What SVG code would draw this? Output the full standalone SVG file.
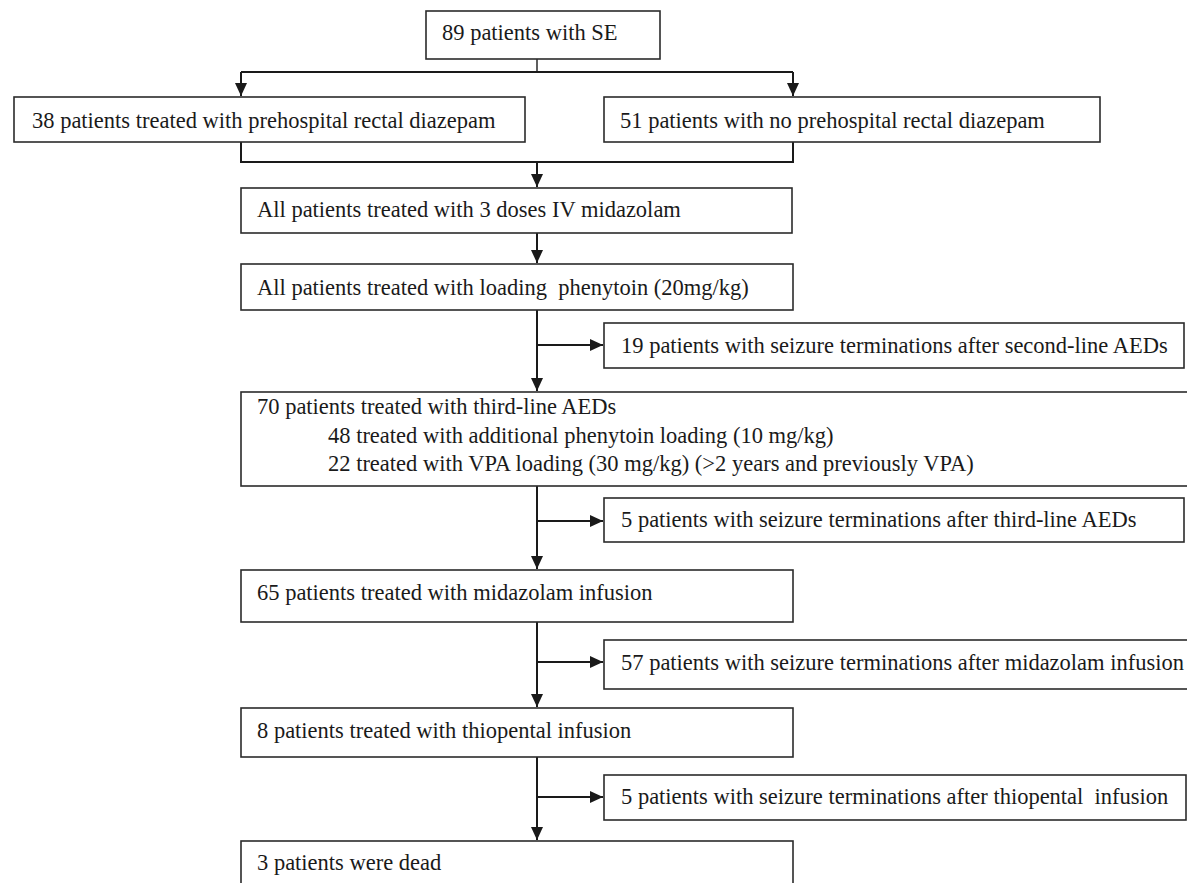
<svg xmlns="http://www.w3.org/2000/svg" width="1187" height="883" viewBox="0 0 1187 883">
<style>
.box{fill:#fff;stroke:#2b2b2b;stroke-width:1.6}
.t{font-family:"Liberation Serif","Times New Roman",serif;font-size:22.5px;fill:#1a1a1a;white-space:pre}
.c{fill:none;stroke:#1a1a1a;stroke-width:2}
</style>
<defs>
<marker id="ah" markerUnits="userSpaceOnUse" markerWidth="13" markerHeight="12" viewBox="0 0 13 12" refX="13" refY="6" orient="auto">
<path d="M0,0 L13,6 L0,12 z" fill="#1a1a1a"/>
</marker>
</defs>
<rect width="1187" height="883" fill="#fff"/>
<g id="connectors">
<path class="c" style="stroke-width:1.4" d="M537,59 V72"/>
<path class="c" d="M241,72 H793"/>
<path class="c" d="M241,72 V96" marker-end="url(#ah)"/>
<path class="c" d="M793,72 V96" marker-end="url(#ah)"/>
<path class="c" d="M241,142 V162 H793 V142"/>
<path class="c" d="M537,162 V187" marker-end="url(#ah)"/>
<path class="c" d="M537,233 V263" marker-end="url(#ah)"/>
<path class="c" d="M537,310 V391" marker-end="url(#ah)"/>
<path class="c" d="M537,345 H603" marker-end="url(#ah)"/>
<path class="c" d="M537,486 V569" marker-end="url(#ah)"/>
<path class="c" d="M537,521 H603" marker-end="url(#ah)"/>
<path class="c" d="M537,622 V707" marker-end="url(#ah)"/>
<path class="c" d="M537,662 H603" marker-end="url(#ah)"/>
<path class="c" d="M537,757 V840" marker-end="url(#ah)"/>
<path class="c" d="M537,797 H603" marker-end="url(#ah)"/>
</g>
<g id="n-se"><rect class="box" x="426" y="11" width="234" height="48"/><text class="t" x="442" y="40">89 patients with SE</text></g>
<g id="n-rectal"><rect class="box" x="14" y="97" width="511" height="45"/><text class="t" x="32" y="128">38 patients treated with prehospital rectal diazepam</text></g>
<g id="n-norectal"><rect class="box" x="604" y="97" width="496" height="45"/><text class="t" x="620" y="128">51 patients with no prehospital rectal diazepam</text></g>
<g id="n-midaz"><rect class="box" x="241" y="188" width="551" height="45"/><text class="t" x="257" y="217">All patients treated with 3 doses IV midazolam</text></g>
<g id="n-phen"><rect class="box" x="241" y="264" width="552" height="46"/><text class="t" x="257" y="295">All patients treated with loading  phenytoin (20mg/kg)</text></g>
<g id="n-term2"><rect class="box" x="604" y="323" width="580" height="45"/><text class="t" x="621" y="353">19 patients with seizure terminations after second-line AEDs</text></g>
<g id="n-third"><rect class="box" x="241" y="392" width="960" height="94"/>
<text class="t" x="257" y="414">70 patients treated with third-line AEDs</text>
<text class="t" x="328" y="443">48 treated with additional phenytoin loading (10 mg/kg)</text>
<text class="t" x="328" y="471">22 treated with VPA loading (30 mg/kg) (&gt;2 years and previously VPA)</text></g>
<g id="n-term3"><rect class="box" x="604" y="498" width="580" height="44"/><text class="t" x="621" y="527">5 patients with seizure terminations after third-line AEDs</text></g>
<g id="n-midinf"><rect class="box" x="241" y="570" width="552" height="52"/><text class="t" x="257" y="600">65 patients treated with midazolam infusion</text></g>
<g id="n-term4"><rect class="box" x="604" y="640" width="596" height="49"/><text class="t" x="621" y="670">57 patients with seizure terminations after midazolam infusion</text></g>
<g id="n-thio"><rect class="box" x="241" y="708" width="552" height="49"/><text class="t" x="257" y="738">8 patients treated with thiopental infusion</text></g>
<g id="n-term5"><rect class="box" x="604" y="775" width="582" height="45"/><text class="t" x="621" y="804">5 patients with seizure terminations after thiopental  infusion</text></g>
<g id="n-dead"><rect class="box" x="241" y="841" width="552" height="60"/><text class="t" x="257" y="870">3 patients were dead</text></g>
</svg>
